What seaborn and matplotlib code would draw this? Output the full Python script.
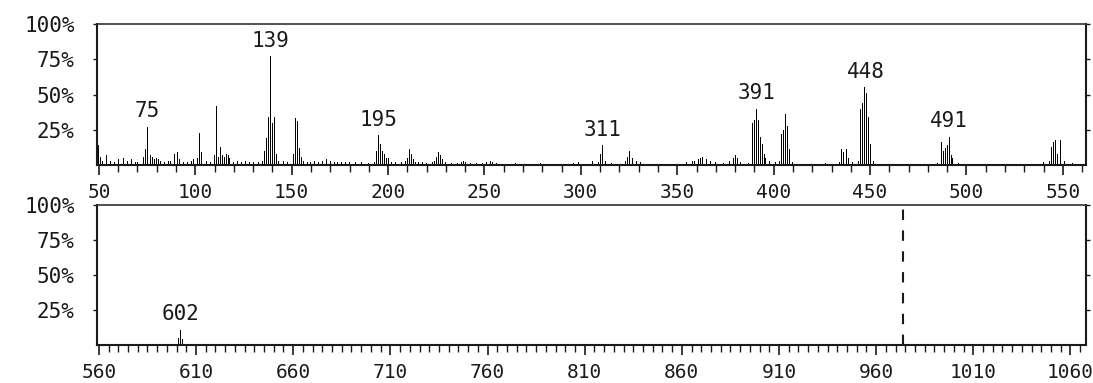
import numpy as np
import pandas as pd
import matplotlib
matplotlib.use("Agg")
import matplotlib.pyplot as plt
from matplotlib.ticker import MultipleLocator, FixedLocator
import seaborn as sns

# m/z and relative intensity (%), 50-560
top_mz = [50, 51, 52, 54, 56, 58, 60, 62, 63, 65, 67, 69, 70, 73, 74, 75, 76, 77, 78, 79, 80, 81, 82,
          84, 86, 87, 89, 90, 91, 92, 94, 96, 98, 99, 101, 102, 103, 104, 106, 108, 110, 111, 112, 113, 114, 115, 116, 117, 118,
          120, 122, 124, 126, 128, 130, 133, 135, 136, 137, 138, 139, 140, 141, 142, 143, 146, 148, 151, 152, 153, 154, 155, 156,
          158, 160, 162, 164, 166, 168, 170, 172, 174, 176, 178, 180, 183, 186, 190, 193, 194, 195, 196, 197, 198, 199, 200,
          202, 204, 207, 209, 210, 211, 212, 213, 214, 216, 218, 220, 223, 224, 225, 226, 227, 228, 230, 233, 236, 238, 239, 240, 243, 246, 249, 251, 253, 254, 256, 259,
          262, 266, 270, 274, 279, 283, 288, 292, 296, 299, 304, 306, 309, 310, 311, 312, 313, 316, 320, 323, 324, 325, 326, 327, 329, 331,
          335, 340, 345, 350, 355, 358, 359, 361, 362, 363, 365, 367, 370, 374, 377, 379, 380, 381, 383, 387, 389, 390, 391, 392, 393, 394, 395, 396, 398,
          401, 403, 404, 405, 406, 407, 408, 410, 414, 418, 423, 427, 431, 434, 435, 436, 437, 438, 439, 441, 444, 445, 446, 447, 448, 449, 450, 451, 452,
          455, 460, 465, 470, 476, 481, 485, 487, 488, 489, 490, 491, 492, 493, 496, 500, 505, 510, 516, 521, 526, 531, 536, 540, 543, 544, 545, 546, 547, 548, 549, 551, 555]
top_int = [14, 6, 3, 7, 3, 2, 4, 12, 5, 3, 4, 2, 2, 6, 11, 27, 18, 7, 6, 4, 5, 4, 3,
           2, 3, 3, 8, 9, 9, 4, 2, 2, 3, 4, 5, 23, 9, 5, 3, 2, 7, 42, 6, 13, 7, 6, 8, 7, 5,
           2, 3, 2, 3, 2, 2, 2, 3, 10, 19, 34, 77, 30, 34, 8, 3, 3, 2, 8, 33, 31, 12, 6, 3,
           2, 2, 3, 2, 3, 4, 3, 2, 2, 2, 2, 2, 2, 2, 1.5, 2, 10, 21, 15, 10, 8, 5, 5,
           2, 2, 2, 3, 5, 11, 8, 4, 2, 2, 2, 1.5, 2, 3, 6, 9, 7, 4, 2, 1.5, 1.5, 2, 3, 2, 1.5, 1.5, 1.5, 2, 3, 2, 1.5, 1,
           1, 1.5, 1, 1, 1.5, 1, 1, 1, 1.5, 2, 1, 3, 2, 8, 14, 7, 3, 1.5, 1, 3, 6, 10, 8, 5, 3, 2,
           1, 1, 1, 1, 2, 3, 3, 4, 5, 5.5, 4, 3, 2, 1.5, 3, 5, 7, 5, 2, 1.5, 30, 32, 40, 32, 20, 15, 8, 5, 3,
           2, 3, 22, 25, 36, 28, 11, 2, 1, 1, 1, 1.5, 1, 2, 11, 9, 7, 11, 5, 2, 3, 40, 44, 55, 51, 34, 15, 21, 3,
           1, 1, 1, 1, 1, 1, 1.5, 16, 10, 12, 14, 20, 7, 5, 1.5, 1, 1, 1, 1, 1, 1, 1, 1, 2, 3, 13, 16, 18, 8, 21, 18, 3, 1.5]
top_labels = [75, 139, 195, 311, 391, 448, 491]

# second range, 560-1060
bottom_mz = [601, 602, 603]
bottom_int = [5, 11, 4]
bottom_labels = ["602"]
bottom_label_mz = [602]
cutoff_mz = 974

y_ticks = [25, 50, 75, 100]
y_ticklabels = ["25%", "50%", "75%", "100%"]

sns.set_style("white")
plt.rcParams["font.family"] = ["DejaVu Sans Mono", "DejaVu Sans"]
ink = "#1a1a1a"

fig = plt.figure(figsize=(10.93, 3.83), dpi=100)
ax1 = fig.add_axes([0.0887, 0.5692, 0.9049, 0.3681])
ax2 = fig.add_axes([0.0887, 0.0992, 0.9049, 0.3655])


def draw_panel(ax, mz, inten, xlim, major_start, minor_step):
    df = pd.DataFrame({"mz": mz, "intensity": inten})
    sns.histplot(data=df, x="mz", weights="intensity", discrete=True, shrink=0.5,
                 color="black", alpha=1, linewidth=0, ax=ax)
    ax.set_xlim(*xlim)
    ax.set_ylim(0, 100)
    ax.set_xlabel("")
    ax.set_ylabel("")
    ax.xaxis.set_major_locator(FixedLocator(np.arange(major_start, xlim[1] + 1, 50)))
    ax.xaxis.set_minor_locator(MultipleLocator(minor_step))
    ax.set_yticks(y_ticks)
    ax.set_yticklabels(y_ticklabels)
    ax.tick_params(axis="x", which="major", direction="out", length=7, width=1.2,
                   color=ink, labelsize=14, labelcolor=ink, pad=6, bottom=True)
    ax.tick_params(axis="x", which="minor", direction="out", length=5, width=1,
                   color=ink, bottom=True)
    ax.tick_params(axis="y", direction="out", length=3, width=1, color=ink,
                   labelsize=15, labelcolor=ink, pad=13, left=True, right=True)
    for side in ["left", "right", "bottom"]:
        ax.spines[side].set_visible(True)
        ax.spines[side].set_color(ink)
        ax.spines[side].set_linewidth(1.5)
    ax.spines["top"].set_color("#333333")
    ax.spines["top"].set_linewidth(1.2)
    ax.spines["top"].set_linestyle((0, (3, 1)))


draw_panel(ax1, top_mz, top_int, (49, 562), 50, 10)
draw_panel(ax2, bottom_mz, bottom_int, (559, 1068), 560, 5)

# peak labels above the tallest bar of each cluster
for lab in top_labels:
    h = max(i for m, i in zip(top_mz, top_int) if abs(m - lab) <= 3)
    ax1.annotate(str(lab), (lab, h), xytext=(0, 4), textcoords="offset points",
                 ha="center", va="bottom", fontsize=15, color=ink)
for lab, pos in zip(bottom_labels, bottom_label_mz):
    h = max(i for m, i in zip(bottom_mz, bottom_int) if abs(m - pos) <= 3)
    ax2.annotate(lab, (pos, h), xytext=(0, 4), textcoords="offset points",
                 ha="center", va="bottom", fontsize=15, color=ink)

ax2.axvline(cutoff_mz, color=ink, lw=1.5, ls=(0, (5, 5)))

fig.savefig("out.png", dpi=100)
